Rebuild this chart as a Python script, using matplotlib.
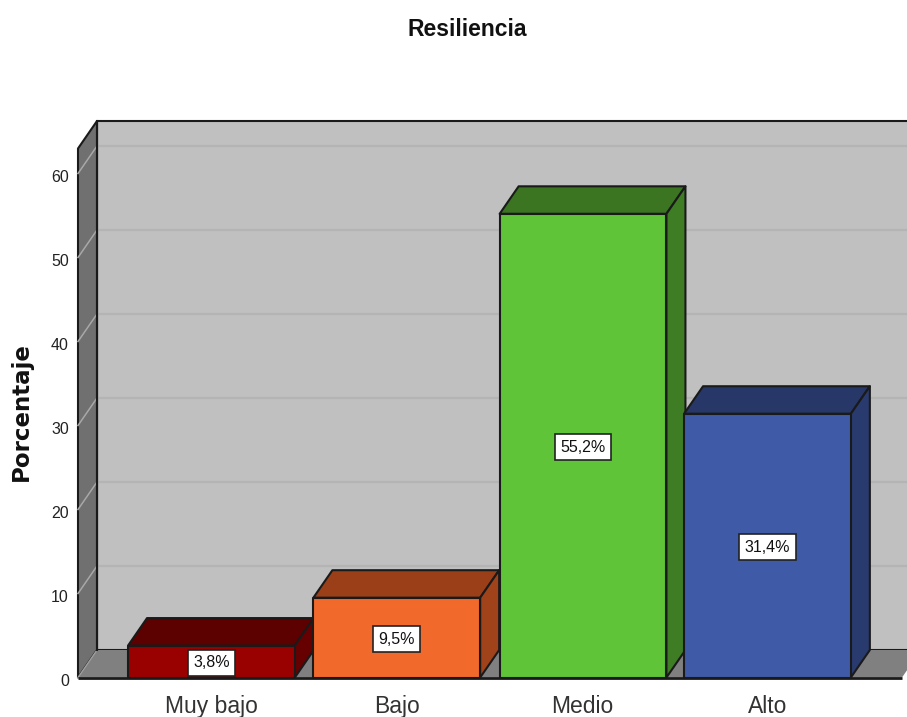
import matplotlib
matplotlib.use('Agg')
import matplotlib.pyplot as plt
from matplotlib.patches import Polygon
from matplotlib.transforms import ScaledTranslation

categorias = ['Muy bajo', 'Bajo', 'Medio', 'Alto']
porcentajes = [3.8, 9.5, 55.2, 31.4]
etiquetas = ['3,8%', '9,5%', '55,2%', '31,4%']
ticks_y = [0, 10, 20, 30, 40, 50, 60]
col_frente = ['#990000', '#f26a2b', '#5fc437', '#3f5ba8']
col_arriba = ['#5c0000', '#9a3f18', '#3b7522', '#263768']
col_lado = ['#660000', '#a1431a', '#3f7d25', '#283a6e']

W, H = 907, 717
plt.rcParams['font.family'] = ['Liberation Sans', 'DejaVu Sans']
fig = plt.figure(figsize=(W / 100, H / 100), dpi=100)
ax = fig.add_axes([78 / W, 1 - 677.5 / H, (902 - 78) / W, (677.5 - 148.5) / H])
xmin, xmax = -0.72, 3.726
ymax = 529 / 8.4
ax.set_xlim(xmin, xmax)
ax.set_ylim(0, ymax)
ax.patch.set_visible(False)

# profundidad del efecto 3D, en unidades de datos
dx = 19 / 185.3
dy = 27.5 / 8.4
ancho = 0.9
borde = '#1a1a1a'


def poly(pts, color, lw=1.5, z=1, ec=borde):
    ax.add_patch(Polygon(pts, closed=True, fc=color, ec=ec, lw=lw, zorder=z,
                         clip_on=False, joinstyle='round'))


# pared del fondo, pared lateral y piso
poly([(xmin + dx, dy), (xmax + dx, dy), (xmax + dx, ymax + dy), (xmin + dx, ymax + dy)], '#c0c0c0', z=1)
poly([(xmin, 0), (xmin + dx, dy), (xmin + dx, ymax + dy), (xmin, ymax)], '#707070', z=2)
poly([(xmin, 0), (xmax, 0), (xmax + dx, dy), (xmin + dx, dy)], '#808080', lw=0, z=2, ec='none')
ax.plot([xmin, xmax], [0, 0], color=borde, lw=2, zorder=3, clip_on=False, solid_capstyle='butt')
ax.plot([xmin + dx, xmin + dx], [dy, ymax + dy], color=borde, lw=1.5, zorder=3, clip_on=False)

# lineas de la cuadricula
for t in ticks_y[1:]:
    ax.plot([xmin + dx, xmax + dx], [t + dy, t + dy], color='#b4b4b4', lw=1.6, zorder=1.5, clip_on=False)
    ax.plot([xmin, xmin + dx], [t, t + dy], color='#a8a8a8', lw=1.1, zorder=2.5, clip_on=False)
ax.plot([xmin, xmin + dx], [0, dy], color='#a0a0a0', lw=1.0, zorder=2.5, clip_on=False)

# barras
for i, v in enumerate(porcentajes):
    x0 = i - ancho / 2 + [0, 0, 0.005, 0][i]
    x1 = x0 + ancho
    poly([(x0, 0), (x1, 0), (x1, v), (x0, v)], col_frente[i], z=5)
    poly([(x0, v), (x1, v), (x1 + dx, v + dy), (x0 + dx, v + dy)], col_arriba[i], z=4)
    poly([(x1, 0), (x1 + dx, dy), (x1 + dx, v + dy), (x1, v)], col_lado[i], z=4)
    ypos = v / 2 - 0.2 if v > 5 else 1.75
    ax.text(x0 + ancho / 2, ypos, etiquetas[i], ha='center', va='center', fontsize=11.5,
            color='#111111', zorder=7,
            bbox=dict(boxstyle='square,pad=0.34', fc='white', ec='#222222', lw=1.2))

ax.set_xticks(range(len(categorias)))
ax.set_xticklabels(categorias, fontsize=16.5, color='#333333')
ax.set_yticks(ticks_y)
ax.set_yticklabels([str(t) for t in ticks_y], fontsize=11.5, color='#222222')
ax.tick_params(axis='both', length=0)
ax.tick_params(axis='x', pad=12.5)
ax.tick_params(axis='y', pad=6.5)
# los numeros del eje y quedan un poco mas abajo que la linea
baja = ScaledTranslation(0, -2.5 / 100, fig.dpi_scale_trans)
for lab in ax.get_yticklabels():
    lab.set_transform(lab.get_transform() + baja)
for s in ax.spines.values():
    s.set_visible(False)

fig.text(21 / W, 1 - 412 / H, 'Porcentaje', rotation=90, ha='center', va='center',
         fontsize=16.5, fontweight='bold', color='#111111', family='DejaVu Sans')
fig.text(467 / W, 1 - 29.5 / H, 'Resiliencia', ha='center', va='center',
         fontsize=16.5, fontweight='bold', color='#111111')

fig.savefig('out.png', dpi=100)
